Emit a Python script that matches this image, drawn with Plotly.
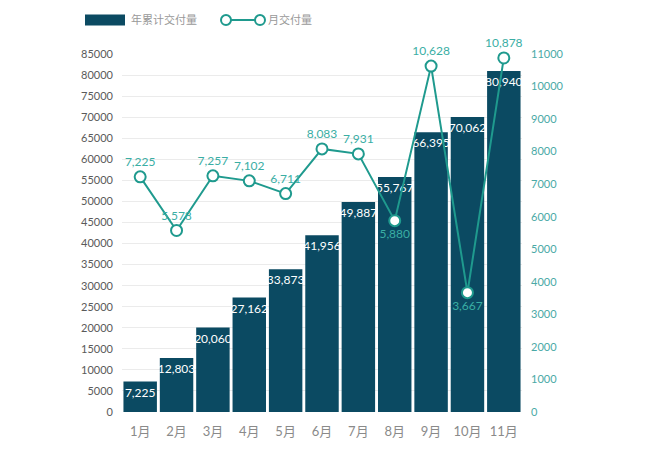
import plotly.graph_objects as go

months = ["1月", "2月", "3月", "4月", "5月", "6月", "7月", "8月", "9月", "10月", "11月"]
cumulative = [7225, 12803, 20060, 27162, 33873, 41956, 49887, 55767, 66395, 70062, 80940]
monthly = [7225, 5578, 7257, 7102, 6711, 8083, 7931, 5880, 10628, 3667, 10878]
label_pos = ["top center"] * 7 + ["bottom center", "top center", "bottom center", "top center"]

BAR = "#0b4a62"
LINE = "#1f9a8e"
FONT = "Lato, 'Noto Sans CJK SC', sans-serif"

fig = go.Figure()
fig.add_bar(
    x=months, y=cumulative, name="年累计交付量",
    marker_color=BAR, marker_line_width=0,
    texttemplate="%{y:,}", textposition="inside", insidetextanchor="end",
    textangle=0, constraintext="none",
    textfont=dict(color="white", size=12, family=FONT),
)
fig.add_scatter(
    x=months, y=monthly, name="月交付量", yaxis="y2",
    mode="lines+markers+text",
    line=dict(color=LINE, width=2),
    marker=dict(symbol="circle", size=11, color="white", line=dict(color=LINE, width=2)),
    texttemplate="%{y:,}", textposition=label_pos,
    textfont=dict(color="#3aaea4", size=12, family=FONT),
    cliponaxis=False,
)

# custom legend (drawn by hand: wide swatch, line with two open circles)
LY = 1.095
fig.add_shape(type="rect", xref="paper", yref="paper", x0=-0.0925, x1=0.0075,
              y0=LY - 0.0155, y1=LY + 0.0155, fillcolor=BAR, line_width=0)
fig.add_annotation(xref="paper", yref="paper", x=0.018, y=LY, xanchor="left", yanchor="middle",
                   text="年累计交付量", showarrow=False, font=dict(size=11, color="#999", family=FONT))
fig.add_shape(type="line", xref="paper", yref="paper", x0=0.26, x1=0.345, y0=LY, y1=LY,
              line=dict(color=LINE, width=2))
for xx in (0.26, 0.345):
    fig.add_shape(type="circle", xref="paper", yref="paper", x0=xx - 0.0125, x1=xx + 0.0125,
                  y0=LY - 0.014, y1=LY + 0.014, fillcolor="white", line=dict(color=LINE, width=2))
fig.add_annotation(xref="paper", yref="paper", x=0.36, y=LY, xanchor="left", yanchor="middle",
                   text="月交付量", showarrow=False, font=dict(size=11, color="#999", family=FONT))

fig.update_layout(
    width=650, height=465,
    margin=dict(l=114, r=136, t=46, b=61, autoexpand=False),
    plot_bgcolor="white", paper_bgcolor="white",
    showlegend=False, bargap=0.08,
    uniformtext=dict(minsize=12, mode="show"),
    font=dict(family=FONT),
    xaxis=dict(range=[-0.5, len(months) - 0.5], showgrid=False, showline=False, ticks="",
               automargin=False, tickfont=dict(size=13, color="#8a8a8a"), ticklabelstandoff=10),
    yaxis=dict(range=[0, 85000], dtick=5000, tickformat="d", showgrid=True, gridcolor="#ebebeb",
               zeroline=False, tickfont=dict(size=11, color="#5a5a5a"), automargin=False,
               ticklabelstandoff=8),
    yaxis2=dict(range=[0, 11000], dtick=1000, tickformat="d", overlaying="y", side="right",
                showgrid=False, zeroline=False, tickfont=dict(size=11, color="#4aa9a6"),
                automargin=False, ticklabelstandoff=8),
)

fig.write_html("out.html")
